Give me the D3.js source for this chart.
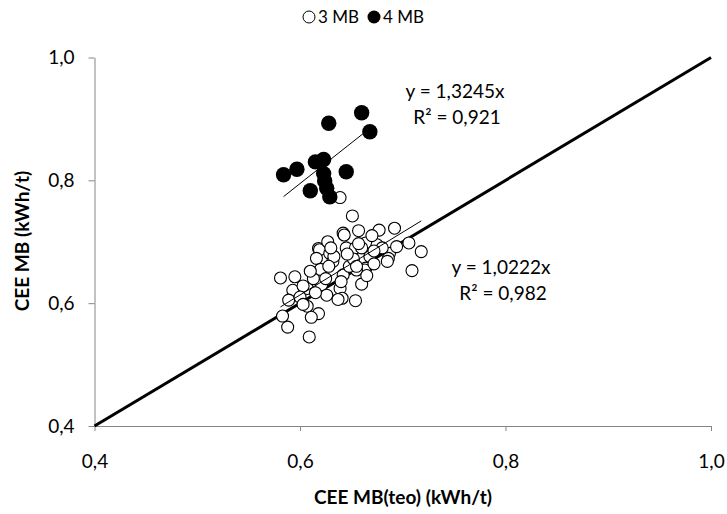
<!DOCTYPE html>
<html><head><meta charset="utf-8">
<script src="https://cdn.jsdelivr.net/npm/d3@7"></script>
<style>body{margin:0;background:#fff}svg{display:block}</style>
</head><body><svg id="c" width="727" height="514"></svg>
<script>
const xTicks = [0.4, 0.6, 0.8, 1.0];
const yTicks = [0.4, 0.6, 0.8, 1.0];
const seriesNames = ["3 MB", "4 MB"];

const mb3X = [0.651,0.642,0.657,0.677,0.692,0.643,0.618,0.619,0.629,0.645,0.654,0.664,0.675,0.687,0.694,0.706,0.718,0.632,0.616,0.664,0.663,0.655,0.709,0.686,0.642,0.581,0.595,0.619,0.607,0.593,0.621,0.639,0.660,0.626,0.641,0.589,0.637,0.654,0.607,0.618,0.611,0.583,0.588,0.609,0.603,0.613,
  0.627,0.633,0.648,0.652,0.668,0.672,0.680,0.660,0.620,0.610,0.625,0.600,0.630,0.646,0.657,0.685,0.670,0.655,0.665,0.640,0.628,0.603,0.615,0.672,0.639];
const mb3Y = [0.742,0.714,0.718,0.719,0.722,0.711,0.689,0.687,0.681,0.690,0.690,0.698,0.695,0.681,0.692,0.698,0.684,0.668,0.673,0.657,0.654,0.654,0.653,0.673,0.646,0.641,0.643,0.646,0.624,0.621,0.630,0.624,0.631,0.613,0.608,0.605,0.606,0.604,0.595,0.583,0.577,0.579,0.561,0.545,0.628,0.640,
  0.700,0.676,0.660,0.672,0.676,0.664,0.690,0.690,0.655,0.652,0.640,0.610,0.690,0.680,0.697,0.668,0.710,0.660,0.645,0.635,0.660,0.598,0.617,0.685,0.772];

const mb4X = [0.628,0.660,0.668,0.623,0.615,0.597,0.584,0.645,0.623,0.624,0.626,0.610,0.629];
const mb4Y = [0.893,0.910,0.879,0.834,0.830,0.818,0.809,0.814,0.811,0.799,0.787,0.783,0.773];

const slope3 = 1.0222, r2_3 = 0.982;
const slope4 = 1.3245, r2_4 = 0.921;

const fmt = d => d.toFixed(1).replace('.', ',');
const fmt4 = d => d.toFixed(4).replace('.', ',');
const fmt3 = d => d.toFixed(3).replace('.', ',');

const svg = d3.select('#c');
const x = d3.scaleLinear().domain([0.4, 1.0]).range([94.5, 711]);
const y = d3.scaleLinear().domain([0.4, 1.0]).range([426, 57.5]);
const FONT = "Lato, 'Open Sans', sans-serif";
const AXC = '#868686';

const gx = svg.append('g').attr('transform', 'translate(0,426)')
  .call(d3.axisBottom(x).tickValues(xTicks).tickFormat(fmt).tickSize(5).tickSizeOuter(0).tickPadding(24));
const gy = svg.append('g').attr('transform', 'translate(94.5,0)')
  .call(d3.axisLeft(y).tickValues(yTicks).tickFormat(fmt).tickSize(6).tickSizeOuter(0).tickPadding(14));
[gx, gy].forEach(g => {
  g.select('.domain').attr('stroke', AXC).attr('stroke-width', 1);
  g.selectAll('.tick line').attr('stroke', AXC).attr('stroke-width', 1);
  g.selectAll('.tick text').attr('fill', '#000').style('font-family', FONT).style('font-size', '19px');
});

svg.append('line')
  .attr('x1', x(0.4)).attr('y1', y(0.4)).attr('x2', x(1.0)).attr('y2', y(1.0))
  .attr('stroke', '#000').attr('stroke-width', 3);

const pts3 = mb3X.map((v, i) => [v, mb3Y[i]]);
const pts4 = mb4X.map((v, i) => [v, mb4Y[i]]);

svg.append('g').selectAll('circle').data(pts3).join('circle')
  .attr('cx', d => x(d[0])).attr('cy', d => y(d[1])).attr('r', 6)
  .attr('fill', '#fff').attr('stroke', '#000').attr('stroke-width', 1.1);

svg.append('g').selectAll('circle').data(pts4).join('circle')
  .attr('cx', d => x(d[0])).attr('cy', d => y(d[1])).attr('r', 7.7)
  .attr('fill', '#000');

function trend(xs, slope) {
  const lo = d3.min(xs), hi = d3.max(xs);
  svg.append('line')
    .attr('x1', x(lo)).attr('y1', y(lo * slope))
    .attr('x2', x(hi)).attr('y2', y(hi * slope))
    .attr('stroke', '#000').attr('stroke-width', 1);
}
trend(mb3X, slope3);
trend(mb4X, slope4);

function eq(cx, cy, slope, r2, f) {
  const g = svg.append('g').style('font-family', FONT).style('font-size', '19px').attr('text-anchor', 'middle');
  g.append('text').attr('x', cx).attr('y', cy).attr('dy', '0.35em').text('y = ' + fmt4(slope) + 'x');
  g.append('text').attr('x', cx + 2).attr('y', cy + 26).attr('dy', '0.35em').text('R² = ' + f(r2));
}
eq(501, 267, slope3, r2_3, fmt3);
eq(455, 91, slope4, r2_4, fmt3);

const lg = svg.append('g').style('font-family', FONT).style('font-size', '17px');
lg.append('circle').attr('cx', 309).attr('cy', 17).attr('r', 6).attr('fill', '#fff').attr('stroke', '#000').attr('stroke-width', 1);
lg.append('text').attr('x', 318).attr('y', 17).attr('dy', '0.35em').text(seriesNames[0]);
lg.append('circle').attr('cx', 374).attr('cy', 17).attr('r', 6.5).attr('fill', '#000');
lg.append('text').attr('x', 383).attr('y', 17).attr('dy', '0.35em').text(seriesNames[1]);

svg.append('text').attr('x', 403).attr('y', 497).attr('dy', '0.35em').attr('text-anchor', 'middle')
  .style('font-family', FONT).style('font-size', '19px').style('font-weight', 'bold')
  .text('CEE MB(teo) (kWh/t)');
svg.append('text').attr('transform', 'translate(22,241) rotate(-90)').attr('dy', '0.35em').attr('text-anchor', 'middle')
  .style('font-family', FONT).style('font-size', '19px').style('font-weight', 'bold')
  .text('CEE MB (kWh/t)');
</script></body></html>
